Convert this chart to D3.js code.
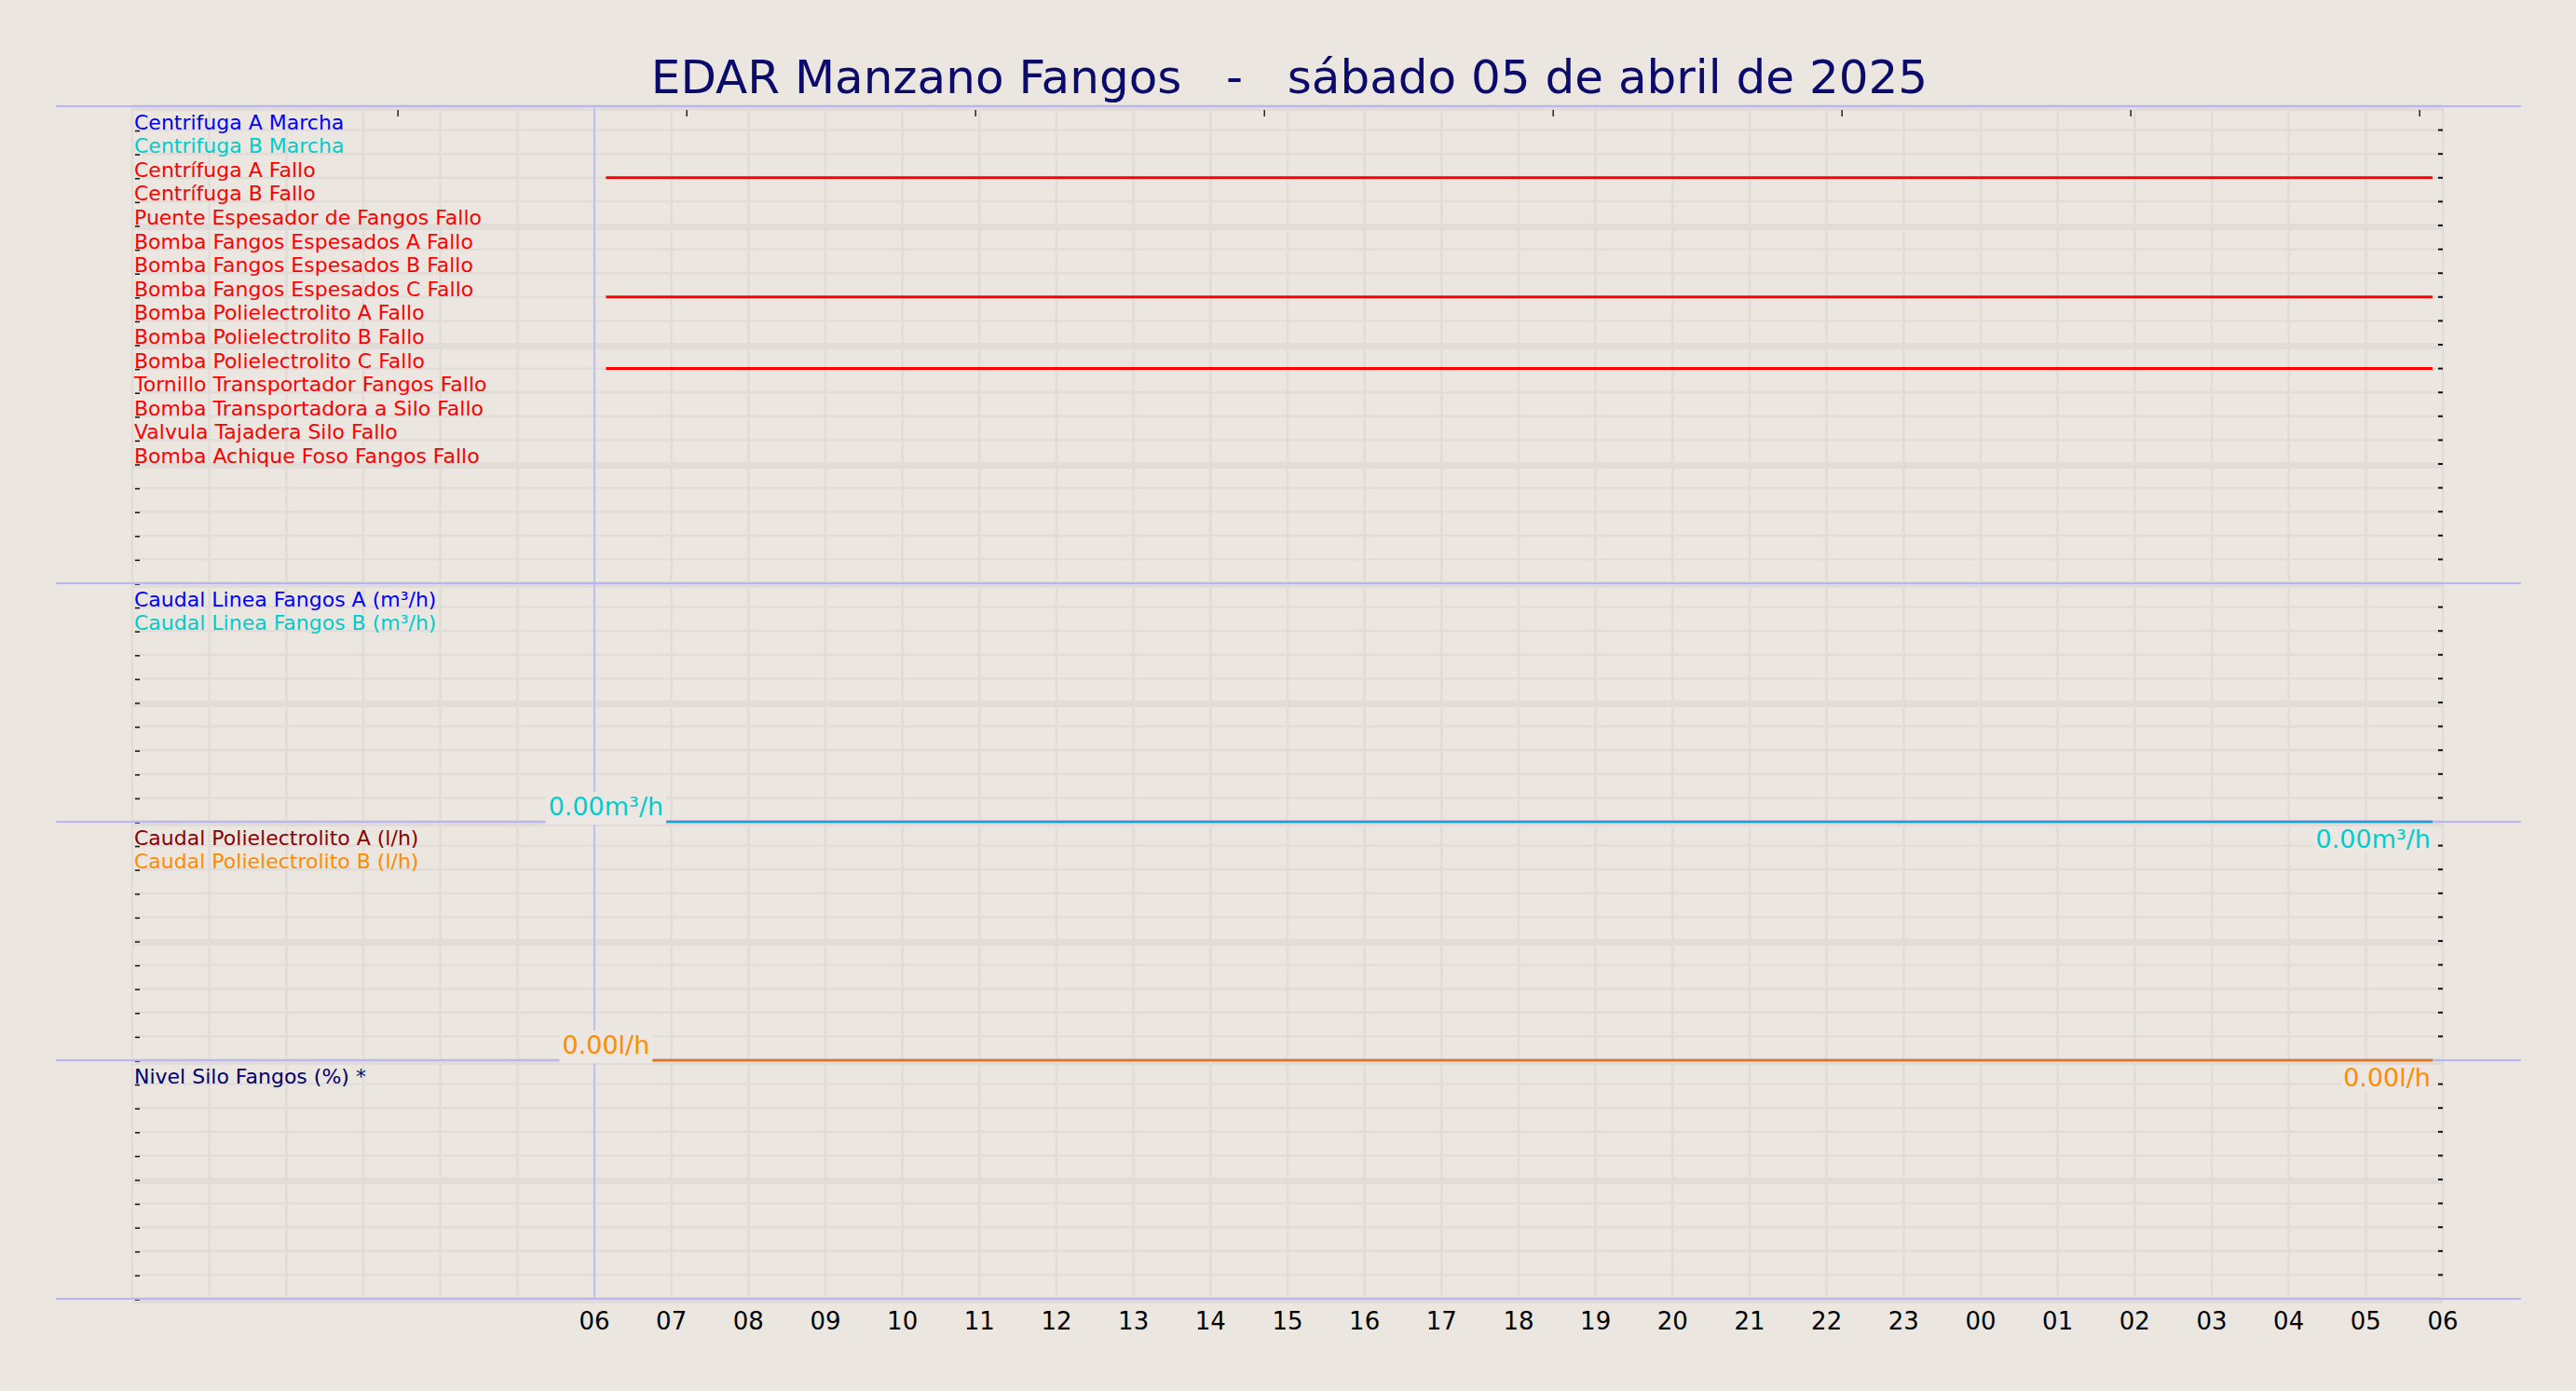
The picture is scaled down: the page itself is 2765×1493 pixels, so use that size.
<!DOCTYPE html>
<html><head><meta charset="utf-8">
<script src="https://cdn.jsdelivr.net/npm/d3@7"></script>
<style>
body{margin:0;background:#ebe6e0;}
svg text{font-family:"DejaVu Sans",sans-serif;white-space:pre;}
</style>
</head><body>
<svg id="c" width="2765" height="1493"></svg>
<script>
// ---------- data ----------
const titleText = "EDAR Manzano Fangos   -   sábado 05 de abril de 2025";

const digitalLabels = [
  "Centrifuga A Marcha","Centrifuga B Marcha","Centrífuga A Fallo","Centrífuga B Fallo",
  "Puente Espesador de Fangos Fallo","Bomba Fangos Espesados A Fallo","Bomba Fangos Espesados B Fallo",
  "Bomba Fangos Espesados C Fallo","Bomba Polielectrolito A Fallo","Bomba Polielectrolito B Fallo",
  "Bomba Polielectrolito C Fallo","Tornillo Transportador Fangos Fallo","Bomba Transportadora a Silo Fallo",
  "Valvula Tajadera Silo Fallo","Bomba Achique Foso Fangos Fallo"
];
const digitalColors = ["#0000ff","#00cccc","#ff0000","#ff0000","#ff0000","#ff0000","#ff0000",
  "#ff0000","#ff0000","#ff0000","#ff0000","#ff0000","#ff0000","#ff0000","#ff0000"];
const digitalStates = [0,0,1,0,0,0,0,1,0,0,1,0,0,0,0];
const digitalTimes = ["2025-04-05T06:09","2025-04-06T05:52"];

const flowLabels = ["Caudal Linea Fangos A (m³/h)","Caudal Linea Fangos B (m³/h)"];
const flowColors = ["#0000ff","#00cccc"];
const flowTimes = ["2025-04-05T06:09","2025-04-06T05:52"];
const flowA = [0,0];
const flowB = [0,0];

const polyLabels = ["Caudal Polielectrolito A (l/h)","Caudal Polielectrolito B (l/h)"];
const polyColors = ["#8b0000","#ff8c00"];
const polyTimes = ["2025-04-05T06:09","2025-04-06T05:52"];
const polyA = [0,0];
const polyB = [0,0];

const levelLabels = ["Nivel Silo Fangos (%) *"];
const levelColors = ["#000070"];

const hourLabels = ["06","07","08","09","10","11","12","13","14","15","16","17","18","19","20","21","22","23","00","01","02","03","04","05","06"];
const topTickHours = [3.45,7.2,10.95,14.7,18.45,22.2,25.95,29.7];
const panelRows = [20,10,10,10];

// ---------- layout ----------
const svg = d3.select("#c");
const BG = "#ebe6e0", GRID = "#e2dcd9", LAV = "#b4b4ff";
const plotL = 142, plotR = 2622, plotT = 114, plotB = 1394;
const t0 = new Date(2025,3,5,0,0), t1 = new Date(2025,3,6,6,0);
const x = d3.scaleTime().domain([t0,t1]).range([plotL,plotR]);
const totalRows = d3.sum(panelRows);
const row = d3.scaleLinear().domain([0,totalRows]).range([plotT,plotB]);
const panelStart = [0]; panelRows.forEach((r,i)=>panelStart.push(panelStart[i]+r));
const parse = s => new Date(s);

svg.append("rect").attr("width",2765).attr("height",1493).attr("fill",BG);

// title
svg.append("text").attr("x",1384).attr("y",100).attr("text-anchor","middle")
  .attr("font-size",50).attr("fill","#0b0b6b").text(titleText);

// vertical hour grid
const hours = d3.timeHour.range(t0, d3.timeHour.offset(t1,1));
svg.append("g").selectAll("line").data(hours).join("line")
  .attr("x1",d=>x(d)).attr("x2",d=>x(d)).attr("y1",plotT).attr("y2",plotB)
  .attr("stroke",GRID).attr("stroke-width",2.7);

// horizontal row grid
const rows = d3.range(0,totalRows+1);
svg.append("g").selectAll("line").data(rows.filter(r=>r%5)).join("line")
  .attr("x1",plotL).attr("x2",plotR).attr("y1",d=>row(d)).attr("y2",d=>row(d))
  .attr("stroke",GRID).attr("stroke-width",2.4);
svg.append("g").selectAll("line").data(rows.filter(r=>r%5===0)).join("line")
  .attr("x1",plotL).attr("x2",plotR).attr("y1",d=>row(d)+1.5).attr("y2",d=>row(d)+1.5)
  .attr("stroke",GRID).attr("stroke-width",7);

// left / right ticks
svg.append("g").selectAll("line").data(rows.slice(1)).join("line")
  .attr("x1",plotL+3).attr("x2",plotL+8).attr("y1",d=>row(d)+1).attr("y2",d=>row(d)+1)
  .attr("stroke","#111").attr("stroke-width",1.5);
svg.append("g").selectAll("line").data(rows.slice(1)).join("line")
  .attr("x1",plotR-5).attr("x2",plotR).attr("y1",d=>row(d)).attr("y2",d=>row(d))
  .attr("stroke","#111").attr("stroke-width",2);

// top ticks
svg.append("g").selectAll("line").data(topTickHours).join("line")
  .attr("x1",h=>x(d3.timeMinute.offset(t0,Math.round(h*60)))).attr("x2",h=>x(d3.timeMinute.offset(t0,Math.round(h*60))))
  .attr("y1",plotT+4).attr("y2",plotT+11).attr("stroke","#222").attr("stroke-width",1.5);

// 06:00 marker line
const t06 = new Date(2025,3,5,6,0);
svg.append("line").attr("x1",x(t06)).attr("x2",x(t06)).attr("y1",plotT+2).attr("y2",plotB-1)
  .attr("stroke",LAV).attr("stroke-width",1.5);

// panel border lines
svg.append("g").selectAll("line").data(panelStart).join("line")
  .attr("x1",60).attr("x2",2706).attr("y1",d=>row(d)).attr("y2",d=>row(d))
  .attr("stroke",LAV).attr("stroke-width",2);

// x axis labels
const labelHours = d3.timeHour.range(t06, d3.timeHour.offset(t1,1));
svg.append("g").selectAll("text").data(labelHours).join("text")
  .attr("x",d=>x(d)).attr("y",1427).attr("text-anchor","middle")
  .attr("font-size",26).attr("fill","#000").text((d,i)=>hourLabels[i]);

// row labels helper
function rowLabels(labels, colors, startRow){
  svg.append("g").selectAll("text").data(labels).join("text")
    .attr("x",plotL+2).attr("y",(d,i)=>row(startRow+i+1)-1)
    .attr("font-size",22).attr("fill",(d,i)=>colors[i]).text(d=>d);
}

// digital panel
const dt = digitalTimes.map(parse);
svg.append("g").selectAll("line").data(digitalStates.map((s,i)=>({s,i})).filter(d=>d.s===1)).join("line")
  .attr("x1",x(dt[0])).attr("x2",x(dt[1]))
  .attr("y1",d=>row(panelStart[0]+d.i+1)).attr("y2",d=>row(panelStart[0]+d.i+1))
  .attr("stroke",d=>digitalColors[d.i]).attr("stroke-width",3);
rowLabels(digitalLabels, digitalColors, panelStart[0]);

// analog panels
function analog(pIdx, times, seriesA, seriesB, colors, labels, unit){
  const top = row(panelStart[pIdx]), bot = row(panelStart[pIdx+1]);
  const y = d3.scaleLinear().domain([0,10]).range([bot,top]);
  const tt = times.map(parse);
  const line = d3.line().x((d,i)=>x(tt[i])).y(d=>y(d));
  svg.append("path").datum(seriesA).attr("d",line).attr("fill","none")
    .attr("stroke",colors[0]).attr("stroke-width",2.6).attr("stroke-opacity",0.7);
  svg.append("path").datum(seriesB).attr("d",line).attr("fill","none")
    .attr("stroke",colors[1]).attr("stroke-width",1.7);
  const fmt = d3.format(".2f");
  // start label (centered on start, above line, with background)
  const g1 = svg.append("g");
  const tx1 = g1.append("text").attr("x",x(tt[0])).attr("y",y(seriesB[0])-7)
    .attr("text-anchor","middle").attr("font-size",27).attr("fill",colors[1])
    .text(fmt(seriesB[0])+unit);
  const b1 = tx1.node().getBBox();
  g1.insert("rect","text").attr("x",b1.x-3).attr("y",y(seriesB[0])-32)
    .attr("width",b1.width+6).attr("height",35).attr("fill","#ece7e2");
  // end label (right aligned, below line)
  const last = seriesB.length-1;
  const g2 = svg.append("g");
  const tx2 = g2.append("text").attr("x",x(tt[last])-2).attr("y",y(seriesB[last])+28)
    .attr("text-anchor","end").attr("font-size",27).attr("fill",colors[1])
    .text(fmt(seriesB[last])+unit);
  const b2 = tx2.node().getBBox();
  g2.insert("rect","text").attr("x",b2.x-2).attr("y",b2.y+2)
    .attr("width",b2.width+4).attr("height",b2.height-2).attr("fill","#ece7e2");
  rowLabels(labels, colors, panelStart[pIdx]);
}
analog(1, flowTimes, flowA, flowB, flowColors, flowLabels, "m³/h");
analog(2, polyTimes, polyA, polyB, polyColors, polyLabels, "l/h");
rowLabels(levelLabels, levelColors, panelStart[3]);
</script>
</body></html>
